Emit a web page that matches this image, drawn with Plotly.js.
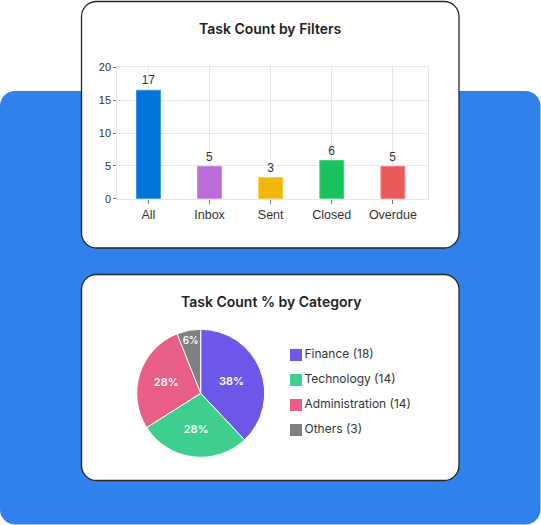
<!DOCTYPE html>
<html>
<head>
<meta charset="utf-8">
<script src="https://cdn.plot.ly/plotly-3.0.1.min.js"></script>
<style>
  html, body { margin: 0; padding: 0; background: #ffffff; }
  #chart { width: 541px; height: 525px; }
</style>
</head>
<body>
<div id="chart"></div>
<script>
// ---- Data ----
const barTitle = "Task Count by Filters";
const barCategories = ["All", "Inbox", "Sent", "Closed", "Overdue"];
const barValues = [16.5, 4.9, 3.2, 5.8, 4.9];
const barLabels = ["17", "5", "3", "6", "5"];
const barColors = ["#0276D8", "#BD6BD9", "#EFB80A", "#18C35E", "#EB5A5B"];
const barBorders = ["#3A92E2", "#CA87E0", "#F3C53E", "#47CF7E", "#EF7B7C"];

const pieTitle = "Task Count % by Category";
const pieCategories = ["Finance", "Technology", "Administration", "Others"];
const pieCounts = [18, 14, 14, 3];
const piePercents = [38, 28, 28, 6];
const pieColors = ["#6C57E8", "#3ECF8E", "#E95E86", "#808080"];

const yTicks = [0, 5, 10, 15, 20];

// ---- Helpers (pixel -> paper) ----
const W = 541, H = 525;
const px = x => x / W;
const py = y => 1 - y / H;
function roundRect(x0, y0, x1, y1, r) {
  const k = 0.5523 * r;
  const P = (x, y) => px(x) + "," + py(y);
  return "M" + P(x0 + r, y0) +
    " L" + P(x1 - r, y0) +
    " C" + P(x1 - r + k, y0) + " " + P(x1, y0 + r - k) + " " + P(x1, y0 + r) +
    " L" + P(x1, y1 - r) +
    " C" + P(x1, y1 - r + k) + " " + P(x1 - r + k, y1) + " " + P(x1 - r, y1) +
    " L" + P(x0 + r, y1) +
    " C" + P(x0 + r - k, y1) + " " + P(x0, y1 - r + k) + " " + P(x0, y1 - r) +
    " L" + P(x0, y0 + r) +
    " C" + P(x0, y0 + r - k) + " " + P(x0 + r - k, y0) + " " + P(x0 + r, y0) + " Z";
}

const FONT = "Inter, 'Noto Sans', sans-serif";
const AXFONT = "'Liberation Sans', Arial, sans-serif";
const TEXT = "#333333";

const barTrace = {
  type: "bar",
  x: barCategories,
  y: barValues,
  text: barLabels,
  textposition: "outside",
  texttemplate: "%{text}",
  textfont: { family: AXFONT, size: 12, color: TEXT },
  constraintext: "none",
  cliponaxis: false,
  marker: { color: barColors, line: { color: barBorders, width: 1 } },
  xaxis: "x", yaxis: "y",
  hoverinfo: "x+y",
  showlegend: false
};

const pieCx = 200.7, pieCy = 393.3, pieR = 64;
const pieTrace = {
  type: "pie",
  labels: pieCategories,
  values: piePercents,
  sort: false,
  direction: "clockwise",
  rotation: 0,
  textinfo: "percent",
  textposition: "inside",
  insidetextorientation: "horizontal",
  textfont: { family: FONT, size: 11, color: "#ffffff", weight: 600 },
  marker: { colors: pieColors, line: { color: "#ffffff", width: 1 } },
  domain: { x: [px(pieCx - pieR), px(pieCx + pieR)], y: [py(pieCy + pieR), py(pieCy - pieR)] },
  showlegend: false,
  hoverinfo: "label+percent"
};

// custom legend drawn as a scatter trace
const legendTrace = {
  type: "scatter",
  mode: "markers+text",
  x: pieCategories.map(() => 0),
  y: pieCategories.map((_, i) => i),
  text: pieCategories.map((c, i) => c + " (" + pieCounts[i] + ")"),
  textposition: "middle right",
  textfont: { family: FONT, size: 12, color: TEXT },
  marker: { symbol: "square", size: 12, color: pieColors, line: { width: 0 } },
  xaxis: "x2", yaxis: "y2",
  cliponaxis: false,
  hoverinfo: "skip",
  showlegend: false
};

const layout = {
  width: W, height: H,
  margin: { l: 0, r: 0, t: 0, b: 0 },
  paper_bgcolor: "#ffffff",
  plot_bgcolor: "rgba(0,0,0,0)",
  font: { family: FONT, color: TEXT },
  showlegend: false,
  bargap: 0.61,
  xaxis: {
    domain: [px(117.3), px(428.3)],
    type: "category",
    range: [-0.51, 4.58],
    showgrid: true, gridcolor: "#E6E6E6", gridwidth: 1,
    showline: true, mirror: true, linecolor: "#E6E6E6", linewidth: 1,
    ticks: "outside", ticklen: 4, tickcolor: "#777777", tickwidth: 1,
    tickfont: { family: AXFONT, size: 12.5, color: TEXT },
    fixedrange: true, anchor: "y"
  },
  yaxis: {
    domain: [py(198.7), py(67.3)],
    range: [0, 20],
    tickvals: yTicks,
    ticktext: yTicks.map(String),
    showgrid: true, gridcolor: "#E6E6E6", gridwidth: 1,
    zeroline: false,
    showline: true, mirror: true, linecolor: "#E6E6E6", linewidth: 1,
    ticks: "outside", ticklen: 3, tickcolor: "#777777", tickwidth: 1,
    tickfont: { family: AXFONT, size: 11, color: TEXT },
    fixedrange: true, anchor: "x"
  },
  xaxis2: {
    domain: [px(286), px(456)],
    range: [-1, 16],
    visible: false, fixedrange: true, anchor: "y2"
  },
  yaxis2: {
    domain: [py(442.5), py(342.5)],
    range: [pieCategories.length - 0.5, -0.5],
    visible: false, fixedrange: true, anchor: "x2"
  },
  shapes: [
    { type: "path", xref: "paper", yref: "paper", layer: "below",
      path: roundRect(0, 91, 540.5, 524.5, 15), fillcolor: "#3181EC", line: { width: 0 } },
    { type: "path", xref: "paper", yref: "paper", layer: "below",
      path: roundRect(81.5, 1.5, 459, 248, 15), fillcolor: "#ffffff", line: { color: "#262626", width: 1.3 } },
    { type: "path", xref: "paper", yref: "paper", layer: "below",
      path: roundRect(81.5, 274.5, 459, 480.5, 15), fillcolor: "#ffffff", line: { color: "#262626", width: 1.3 } }
  ],
  annotations: [
    { text: barTitle, xref: "paper", yref: "paper", x: px(270.5), y: py(29),
      xanchor: "center", yanchor: "middle", showarrow: false,
      font: { family: FONT, size: 14, color: "#222222", weight: 600 } },
    { text: pieTitle, xref: "paper", yref: "paper", x: px(270.5), y: py(301),
      xanchor: "center", yanchor: "middle", showarrow: false,
      font: { family: FONT, size: 14, color: "#222222", weight: 600 } }
  ]
};

Plotly.newPlot("chart", [barTrace, pieTrace, legendTrace], layout, { displayModeBar: false, staticPlot: true });
</script>
</body>
</html>
